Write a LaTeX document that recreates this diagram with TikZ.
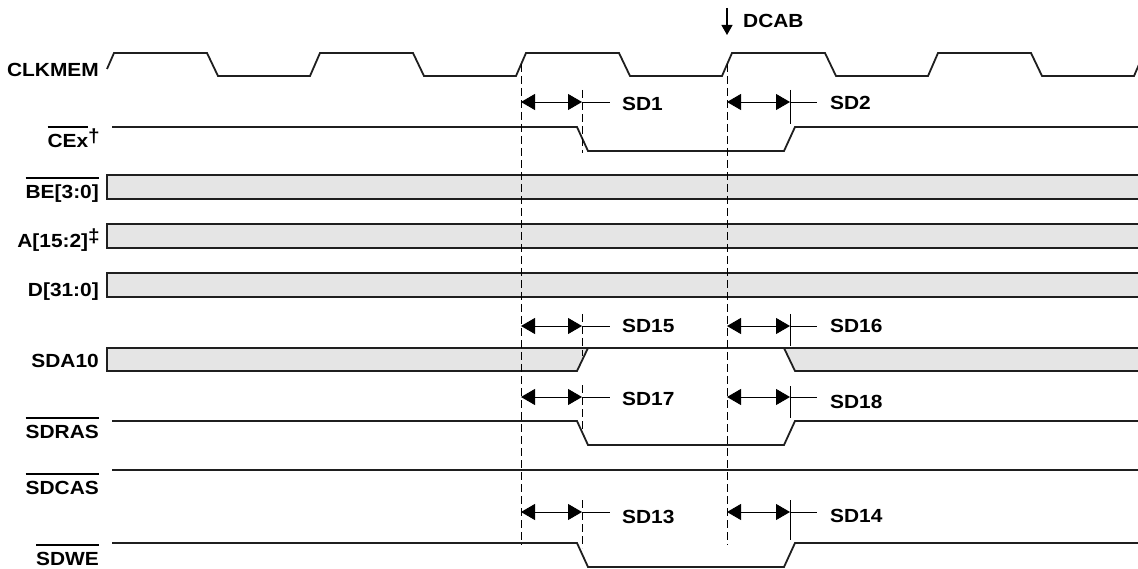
\documentclass[tikz,border=0pt]{standalone}
\usepackage{fontspec}
\setmainfont{Liberation Sans}[FakeStretch=1.1]
\usetikzlibrary{arrows.meta}

% bar over an active-low signal name
\newcommand{\lowbar}[1]{\leavevmode\setbox0=\hbox{#1}\rlap{\rule[19.5pt]{\wd0}{2pt}}\box0}

\begin{document}
\begin{tikzpicture}[x=1pt,y=-1pt,line join=miter,
        sig/.style={line width=1.8pt,color=black!88},
        busfill/.style={fill=black!10},
        refline/.style={line width=0.9pt,dash pattern=on 8pt off 4pt},
        tickline/.style={line width=0.9pt},
        dim/.style={line width=0.9pt,{Triangle[length=14pt,width=16pt]}-{Triangle[length=14pt,width=16pt]}},
        lbl/.style={inner sep=0pt,font=\fontsize{19}{22}\selectfont\bfseries}]
        \clip (0,0) rectangle (1138,569);

        % draw the clock
        \draw[sig] (107,69) -- (114,53)
            \foreach \k in {0,...,4} {
                -- ({207+206*\k},53) -- ({218+206*\k},76)
                -- ({310+206*\k},76) -- ({320+206*\k},53)};

        % draw the strobes that go low between the two edges
        \foreach \yh/\yl in {127/151,421/445,543/567}
                \draw[sig] (112,\yh) -- (577,\yh) -- (588,\yl) -- (784,\yl) -- (795,\yh) -- (1138,\yh);
        \draw[sig] (112,470) -- (1138,470);

        % draw the buses
        \foreach \ya/\yb in {175/199,224/248,273/297} {
                \fill[busfill] (107,\ya) rectangle (1138,\yb);
                \draw[sig] (1138,\ya) -- (107,\ya) -- (107,\yb) -- (1138,\yb);
        }

        % SDA10 is valid, then high, then valid again
        \fill[busfill] (107,348) -- (588,348) -- (577,371) -- (107,371) -- cycle;
        \fill[busfill] (784,348) -- (1138,348) -- (1138,371) -- (795,371) -- cycle;
        \draw[sig] (1138,348) -- (107,348) -- (107,371) -- (577,371) -- (588,348);
        \draw[sig] (784,348) -- (795,371) -- (1138,371);

        % the two clock edges
        \coordinate (e1) at (521,64);
        \coordinate (e2) at (727,64);
        \draw[refline] (e1) -- (e1 |- 0,545);
        \draw[refline] (e2) -- (e2 |- 0,545);

        % the delays after each edge
        \foreach \y/\bl/\br/\lt/\rt/\la/\lb/\ra/\rb in {
            102/111/110/SD1/SD2/90/153/90/124,
            326/333/333/SD15/SD16/314/356/314/346,
            397/405/408/SD17/SD18/385/430/386/418,
            512/523/522/SD13/SD14/500/548/500/540} {
                \draw[dim] (521,\y) -- (582,\y);
                \draw[tickline] (582,\y) -- (610,\y);
                \draw[refline] (582,\la) -- (582,\lb);
                \draw[dim] (727,\y) -- (790,\y);
                \draw[tickline] (790,\y) -- (817,\y);
                \draw[tickline] (790,\ra) -- (790,\rb);
                \node[lbl,anchor=base west] (\lt) at (622,\bl) {\lt};
                \node[lbl,anchor=base west] (\rt) at (830,\br) {\rt};
        }

        % the DCAB command at the second edge
        \coordinate (dcabtop) at (727,8);
        \draw[line width=1.2pt,-{Triangle[length=10pt,width=11pt]}] (dcabtop) -- (727,35);
        \node[lbl,anchor=base west] (dcab) at (743,28) {DCAB};

        % draw the signal names
        \node[lbl,anchor=base east] (clkmem) at (99,77)  {CLKMEM};
        \node[lbl,anchor=base east] (cex)    at (100,148) {\lowbar{CEx}\raisebox{5pt}{\dag}};
        \node[lbl,anchor=base east] (be)     at (99,199) {\lowbar{BE[3:0]}};
        \node[lbl,anchor=base east] (addr)   at (100,248) {A[15:2]\raisebox{5pt}{\ddag}};
        \node[lbl,anchor=base east] (data)   at (99,297) {D[31:0]};
        \node[lbl,anchor=base east] (sda)    at (99,367) {SDA10};
        \node[lbl,anchor=base east] (sdras)  at (99,438) {\lowbar{SDRAS}};
        \node[lbl,anchor=base east] (sdcas)  at (99,494) {\lowbar{SDCAS}};
        \node[lbl,anchor=base east] (sdwe)   at (99,565) {\lowbar{SDWE}};
\end{tikzpicture}
\end{document}
